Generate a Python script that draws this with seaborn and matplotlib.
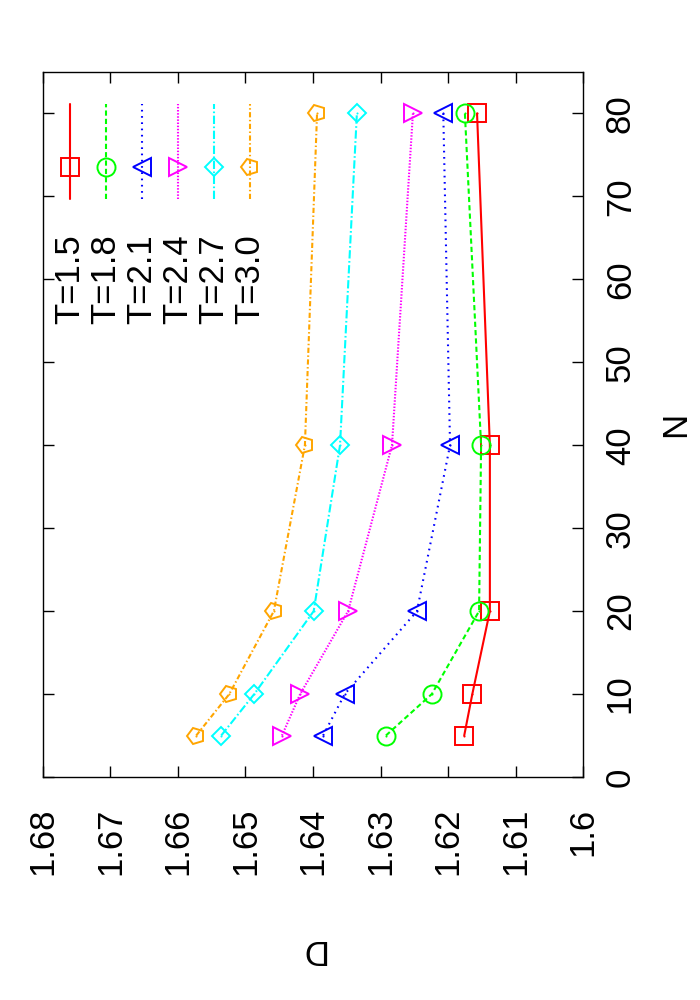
import numpy as np
import pandas as pd
import seaborn as sns
import matplotlib.pyplot as plt
from matplotlib.markers import MarkerStyle
from matplotlib.transforms import Affine2D

# values: N on the (vertical) axis, D on the (horizontal) axis
N = [5, 10, 20, 40, 80]
labels = ["T=1.5", "T=1.8", "T=2.1", "T=2.4", "T=2.7", "T=3.0"]
d_15 = [1.6176, 1.6164, 1.6138, 1.6138, 1.6157]
d_18 = [1.6292, 1.6224, 1.6154, 1.6151, 1.6175]
d_21 = [1.6385, 1.6353, 1.6246, 1.6197, 1.6207]
d_24 = [1.6446, 1.6419, 1.6348, 1.6283, 1.6252]
d_27 = [1.6536, 1.6487, 1.6399, 1.6360, 1.6335]
d_30 = [1.6573, 1.6524, 1.6458, 1.6412, 1.6394]

d_ticks = [1.60, 1.61, 1.62, 1.63, 1.64, 1.65, 1.66, 1.67, 1.68]
d_ticklabels = ["1.6", "1.61", "1.62", "1.63", "1.64", "1.65", "1.66", "1.67", "1.68"]
n_ticks = [0, 10, 20, 30, 40, 50, 60, 70, 80]

series = [d_15, d_18, d_21, d_24, d_27, d_30]
colors = ["#ff0000", "#00ff00", "#0000ff", "#ff00ff", "#00ffff", "#ffa500"]
pent = MarkerStyle("p", transform=Affine2D().rotate_deg(90))
markers = ["s", "o", "<", ">", "D", pent]
msizes = [12.5, 13, 12.5, 12.5, 9.5, 12.5]
styles = ["-", (0, (2.5, 1.5)), (0, (0.8, 2.2)), (0, (0.7, 0.8)),
          (0, (4, 1.2, 0.8, 1.2)), (0, (2.5, 1.2, 0.7, 1.2))]

sns.set_theme(style="white")
plt.rcParams["font.family"] = ["Liberation Sans", "DejaVu Sans"]
plt.rcParams["text.color"] = "black"
plt.rcParams["axes.labelcolor"] = "black"
plt.rcParams["xtick.color"] = "black"
plt.rcParams["ytick.color"] = "black"
FS = 25

fig = plt.figure(figsize=(7, 10), dpi=100)
ax = fig.add_axes([0.0614, 0.223, 0.7715, 0.705])

for d, c, m, ms, ls in zip(series, colors, markers, msizes, styles):
    df = pd.DataFrame({"D": d, "N": N})
    sns.lineplot(data=df, x="D", y="N", orient="y", sort=False, estimator=None,
                 ax=ax, color=c, linestyle=ls, linewidth=1.5, marker=m,
                 markersize=ms, markerfacecolor="none", markeredgecolor=c,
                 markeredgewidth=1.4)
    sns.lineplot(data=df, x="D", y="N", orient="y", sort=False, estimator=None,
                 ax=ax, color=c, linestyle="none", marker="o", markersize=1.5,
                 markeredgewidth=0)

# hand-made key: rotated like the rest of the page
for i, (lab, c, m, ms, ls) in enumerate(zip(labels, colors, markers, msizes, styles)):
    xf = 0.05 + i * 0.0667
    ax.plot([xf, xf], [0.82, 0.955], transform=ax.transAxes, color=c,
            linestyle=ls, linewidth=1.5)
    ax.plot([xf], [0.865], transform=ax.transAxes, color=c, marker=m,
            markersize=ms, markerfacecolor="none", markeredgecolor=c,
            markeredgewidth=1.4)
    ax.text(xf, 0.77, lab, transform=ax.transAxes, rotation=90,
            ha="center", va="top", fontsize=FS, color="black")

ax.set_xlim(1.68, 1.60)
ax.set_ylim(0, 85)
ax.set_xticks(d_ticks)
ax.set_xticklabels(d_ticklabels, rotation=90)
ax.set_yticks(n_ticks)
ax.set_yticklabels([str(v) for v in n_ticks], rotation=90, va="center")
ax.tick_params(axis="both", direction="in", length=8, width=1, color="black",
               labelsize=FS, top=True, bottom=True, left=True, right=True,
               labelleft=False, labelright=True)
ax.tick_params(axis="x", pad=22)
ax.tick_params(axis="y", pad=15)

ax.set_xlabel("D", fontsize=FS, rotation=180, va="center", ha="center")
ax.xaxis.set_label_coords(0.5, -0.245)
ax.set_ylabel("N", fontsize=FS, rotation=90, va="center", ha="center")
ax.yaxis.set_label_position("right")
ax.yaxis.set_label_coords(1.14, 0.5)

for sp in ax.spines.values():
    sp.set_color("black")
    sp.set_linewidth(1.0)
ax.grid(False)

fig.savefig("out.png", dpi=100)
